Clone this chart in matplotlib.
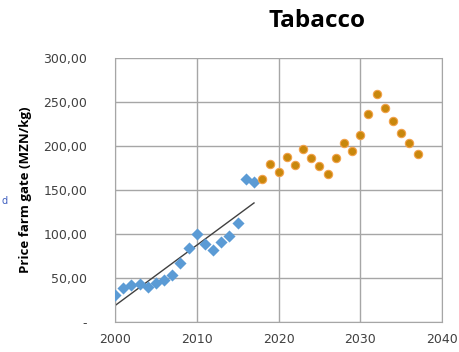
import matplotlib
matplotlib.use("Agg")
import matplotlib.pyplot as plt
import numpy as np
from matplotlib.ticker import FuncFormatter

plt.rcParams['font.family'] = ['DejaVu Sans']

hist_years = list(range(2000, 2018))
hist_values = [31, 39, 42, 43, 40, 44, 48, 54, 67, 84, 100, 89, 82, 91, 98, 113, 163, 159]
proj_years = list(range(2018, 2038))
proj_values = [163, 180, 171, 188, 178, 197, 187, 177, 168, 186, 204, 194, 213, 236, 259,
               243, 229, 215, 203, 191]
x_ticks = [2000, 2010, 2020, 2030, 2040]
y_ticks = [0, 50, 100, 150, 200, 250, 300]

fig = plt.figure(figsize=(4.6, 3.52), dpi=100)
ax = fig.add_axes([0.25, 0.085, 0.711, 0.75])

ax.scatter(hist_years, hist_values, marker='D', s=38, color='#5B9BD5', zorder=3, linewidths=0)
ax.scatter(proj_years, proj_values, marker='o', s=36, facecolor='#C8870C', edgecolor='#F3A24A',
           linewidths=0.8, zorder=3)

coef = np.polyfit(hist_years, hist_values, 1)
fit_x = np.array([hist_years[0], hist_years[-1]])
ax.plot(fit_x, np.polyval(coef, fit_x), color='#404040', lw=1.0, zorder=2)

ax.set_xlim(2000, 2040)
ax.set_ylim(0, 300)
ax.set_xticks(x_ticks)
ax.set_yticks(y_ticks)
ax.yaxis.set_major_formatter(FuncFormatter(lambda v, p: '-' if v == 0 else f"{v:.2f}".replace('.', ',')))
ax.grid(True, color='#a6a6a6', lw=1.0)
ax.set_axisbelow(True)
for side in ['left', 'bottom', 'right']:
    ax.spines[side].set_color('#a6a6a6')
ax.spines['top'].set_visible(False)
ax.tick_params(length=0, labelsize=9, colors='#404040')
ax.tick_params(axis='x', pad=8)
ax.tick_params(axis='y', pad=20)

ax.set_ylabel('Price farm gate (MZN/kg)', fontsize=9.5, fontweight='bold',
              family=['Open Sans', 'DejaVu Sans'])
ax.yaxis.set_label_coords(-0.255, 0.5)
fig.text(0.69, 0.94, 'Tabacco', fontsize=17.5, fontweight='bold', ha='center', va='center',
         family=['Open Sans', 'DejaVu Sans'])
fig.text(0.004, 0.43, 'd', fontsize=7, color='#4060c0', ha='left', va='center')

fig.savefig('out.png', dpi=100)
